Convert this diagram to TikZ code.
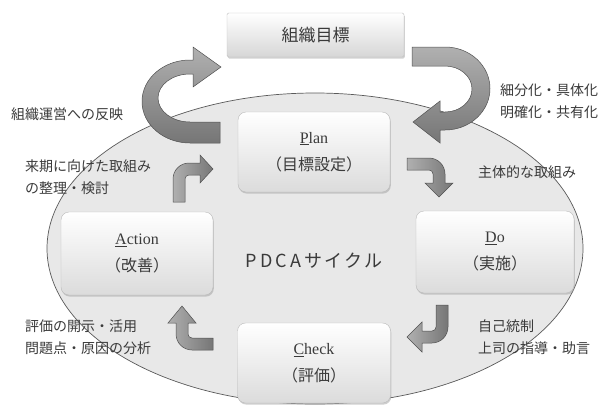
\documentclass[tikz,border=0pt]{standalone}
\usepackage{fontspec}
\setmainfont{Noto Sans CJK JP}
\newfontfamily\latinserif{Liberation Serif}
\usetikzlibrary{shadows}
\definecolor{ellfill}{HTML}{E8E8E8}
\definecolor{ellline}{HTML}{5A5A5A}
\definecolor{txt}{HTML}{3A3A3A}
\definecolor{arrdark}{HTML}{767676}
\definecolor{arrlight}{HTML}{B0B0B0}
\definecolor{arredge}{HTML}{505050}
\begin{document}
\begin{tikzpicture}[x=1pt,y=-1pt,
  stagebox/.style={rounded corners=8pt, draw=gray!55, top color=white, bottom color=gray!28,
    drop shadow={shadow xshift=0.8pt, shadow yshift=-1.6pt, fill=gray!75},
    text=txt, font=\fontsize{16}{27}\selectfont, align=center, inner sep=0pt},
  goalbox/.style={rounded corners=1.5pt, draw=gray!50, top color=white, bottom color=gray!32,
    drop shadow={shadow xshift=0.8pt, shadow yshift=-1.6pt, fill=gray!70},
    text=txt, font=\fontsize{17}{20}\selectfont, inner sep=0pt},
  lbl/.style={text=txt, font=\fontsize{14}{22}\selectfont, align=left, anchor=west, inner sep=0pt},
  bigarrow/.style={top color=arrlight, bottom color=arrdark, draw=arredge, line width=0.5pt},
  smallarrow/.style={left color=arrlight, right color=arrdark, draw=arredge, line width=0.5pt}
]
\useasboundingbox (0,0) rectangle (609,410);

% ellipse
\draw[fill=ellfill, draw=ellline, line width=0.7pt] (315,248.5) ellipse [x radius=268, y radius=155.5];

% big curved arrows
\shade[bigarrow] (220,143) -- (190,143)
  arc[start angle=90, end angle=270, x radius=48, y radius=41.5]
  -- (193,60) -- (193,47) -- (221,67) -- (193,87) -- (193,74) -- (190,74)
  arc[start angle=270, end angle=90, x radius=32, y radius=24]
  -- (220,122) -- cycle;
\shade[bigarrow] (412,47) -- (445,47)
  arc[start angle=270, end angle=450, x radius=45, y radius=41.5]
  -- (440,130) -- (440,143) -- (413,122) -- (440,101) -- (440,112) -- (445,112)
  arc[start angle=90, end angle=-90, x radius=27, y radius=23]
  -- (412,66) -- cycle;

% boxes
\node[goalbox, minimum width=177pt, minimum height=44pt] (goal) at (315.5,35) {組織目標};
\node[stagebox, minimum width=152pt, minimum height=80pt] (plan) at (314,152)
  {{\latinserif\underline{P}lan}\\（目標設定）};
\node[stagebox, minimum width=152pt, minimum height=83pt] (act) at (137,253.5)
  {{\latinserif\underline{A}ction}\\（改善）};
\node[stagebox, minimum width=158pt, minimum height=82pt] (do) at (495,252)
  {{\latinserif\underline{D}o}\\（実施）};
\node[stagebox, minimum width=153pt, minimum height=80pt] (check) at (314,363)
  {{\latinserif\underline{C}heck}\\（評価）};

\node[text=txt, font=\fontsize{18}{20}\selectfont, inner sep=0pt] (cyc) at (314,261)
  {P\kern3pt D\kern3pt C\kern3pt A\kern3pt サ\kern2pt イ\kern2pt ク\kern2pt ル};

% small bent arrows
\shade[smallarrow] (173,202) -- (173,179) arc[start angle=180,end angle=270,radius=16]
  -- (200,163) -- (200,155) -- (213,169) -- (200,183) -- (200,175) -- (189,175)
  arc[start angle=270,end angle=180,radius=4] -- (185,202) -- cycle;
\shade[smallarrow] (407,158) -- (429,158) arc[start angle=270,end angle=360,radius=16]
  -- (445,183) -- (453,183) -- (439,197) -- (425,183) -- (433,183) -- (433,174)
  arc[start angle=0,end angle=-90,radius=4] -- (407,170) -- cycle;
\shade[smallarrow] (448,305) -- (448,327) arc[start angle=0,end angle=90,radius=16]
  -- (422,343) -- (422,352) -- (407,337) -- (422,322) -- (422,331) -- (432,331)
  arc[start angle=90,end angle=0,radius=4] -- (436,305) -- cycle;
\shade[smallarrow] (213,350) -- (192,350) arc[start angle=90,end angle=180,radius=16]
  -- (176,323) -- (168,323) -- (182,306) -- (196,323) -- (188,323) -- (188,334)
  arc[start angle=180,end angle=90,radius=4] -- (213,338) -- cycle;

% labels
\node[lbl] (lblL) at (11,114) {組織運営への反映};
\node[lbl] (lblR) at (500,101) {細分化・具体化\\明確化・共有化};
\node[lbl] (lblAP) at (25,177) {来期に向けた取組み\\の整理・検討};
\node[lbl] (lblPD) at (478,172) {主体的な取組み};
\node[lbl] (lblCA) at (25,337) {評価の開示・活用\\問題点・原因の分析};
\node[lbl] (lblDC) at (478,337) {自己統制\\上司の指導・助言};
\end{tikzpicture}
\end{document}
